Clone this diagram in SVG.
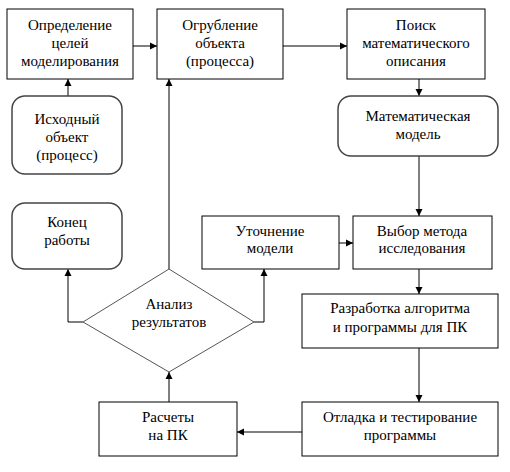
<svg xmlns="http://www.w3.org/2000/svg" width="510" height="472" viewBox="0 0 510 472">
<style>
.box{fill:#fff;stroke:#000;stroke-width:1}
.rbox{fill:#fff;stroke:#444;stroke-width:1.5}
.dia{fill:#fff;stroke:#555;stroke-width:1}
.c{fill:none;stroke:#000;stroke-width:1}
</style>
<defs>
<marker id="ah" markerWidth="8" markerHeight="8" refX="7" refY="4" orient="auto" markerUnits="userSpaceOnUse">
<path d="M0,0.5 L7,4 L0,7.5 Z" fill="#000"/>
</marker>
</defs>
<rect width="510" height="472" fill="#fff"/>
<g id="connectors">
<path class="c" d="M133,46 H157" marker-end="url(#ah)"/>
<path class="c" d="M283,46 H347" marker-end="url(#ah)"/>
<path class="c" d="M68,96 V79" marker-end="url(#ah)"/>
<path class="c" d="M419,79 V96" marker-end="url(#ah)"/>
<path class="c" d="M419,156 V216" marker-end="url(#ah)"/>
<path class="c" d="M169,269 V79" marker-end="url(#ah)"/>
<path class="c" d="M339,243 H353" marker-end="url(#ah)"/>
<path class="c" d="M419,269 V294" marker-end="url(#ah)"/>
<path class="c" d="M419,348 V402" marker-end="url(#ah)"/>
<path class="c" d="M302,432 H237" marker-end="url(#ah)"/>
<path class="c" d="M169,402 V372" marker-end="url(#ah)"/>
<path class="c" d="M83,322 H68 V269" marker-end="url(#ah)"/>
<path class="c" d="M254,322 H264 V269" marker-end="url(#ah)"/>
</g>
<g font-family="Liberation Serif, DejaVu Serif, serif" font-size="15" fill="#000" text-anchor="middle">
<g id="goals">
<rect class="box" x="7" y="9" width="126" height="70"/>
<text x="70" y="30">Определение</text>
<text x="70" y="48">целей</text>
<text x="70" y="66">моделирования</text>
</g>
<g id="coarsen">
<rect class="box" x="157" y="9" width="126" height="70"/>
<text x="220" y="30">Огрубление</text>
<text x="220" y="48">объекта</text>
<text x="220" y="66">(процесса)</text>
</g>
<g id="search">
<rect class="box" x="347" y="9" width="138" height="70"/>
<text x="416" y="30">Поиск</text>
<text x="416" y="48">математического</text>
<text x="416" y="66">описания</text>
</g>
<g id="source">
<rect class="rbox" x="12" y="96" width="110" height="78" rx="13"/>
<text x="67" y="124">Исходный</text>
<text x="67" y="142">объект</text>
<text x="67" y="160">(процесс)</text>
</g>
<g id="mathmodel">
<rect class="rbox" x="338" y="96" width="160" height="60" rx="13"/>
<text x="418" y="121">Математическая</text>
<text x="418" y="139">модель</text>
</g>
<g id="end">
<rect class="rbox" x="12" y="203" width="110" height="66" rx="13"/>
<text x="67" y="227">Конец</text>
<text x="67" y="245">работы</text>
</g>
<g id="refine">
<rect class="box" x="202" y="216" width="137" height="53"/>
<text x="270" y="236">Уточнение</text>
<text x="270" y="253">модели</text>
</g>
<g id="method">
<rect class="box" x="353" y="216" width="139" height="53"/>
<text x="422" y="236">Выбор метода</text>
<text x="422" y="253">исследования</text>
</g>
<g id="analysis">
<polygon class="dia" points="169,269 254,322 169,372 83,322"/>
<text x="169" y="309">Анализ</text>
<text x="169" y="327">результатов</text>
</g>
<g id="algorithm">
<rect class="box" x="302" y="294" width="196" height="54"/>
<text x="400" y="313">Разработка алгоритма</text>
<text x="400" y="332">и программы для ПК</text>
</g>
<g id="debug">
<rect class="box" x="302" y="402" width="196" height="54"/>
<text x="400" y="422">Отладка и тестирование</text>
<text x="400" y="440">программы</text>
</g>
<g id="compute">
<rect class="box" x="99" y="402" width="138" height="54"/>
<text x="168" y="422">Расчеты</text>
<text x="168" y="440">на ПК</text>
</g>
</g>
</svg>
